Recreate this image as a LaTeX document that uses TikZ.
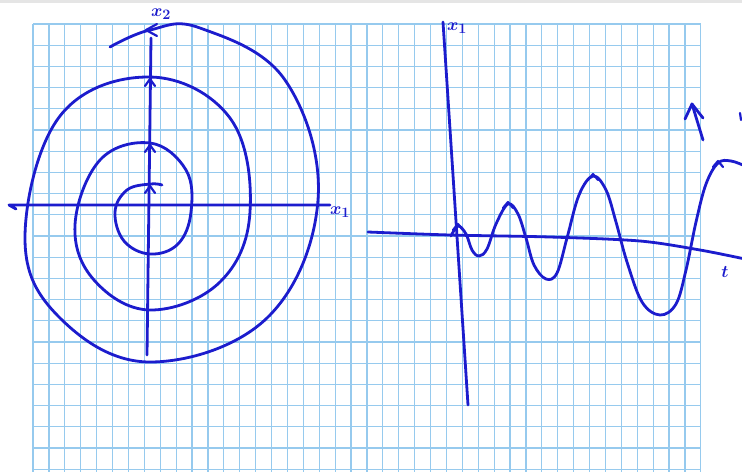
\documentclass[tikz,border=0pt]{standalone}
\definecolor{ink}{RGB}{28,28,205}
\definecolor{gridblue}{RGB}{150,202,238}
\begin{document}
\begin{tikzpicture}[x=1pt,y=-1pt,
  ink/.style={draw=ink, line width=2.8pt, line cap=round, line join=round},
  thin ink/.style={draw=ink, line width=2.2pt, line cap=round, line join=round},
  gridline/.style={draw=gridblue, line width=1.2pt},
  lbl/.style={text=ink, font=\fontsize{19}{19}\selectfont\boldmath, inner sep=0pt}]
\useasboundingbox (0,0) rectangle (742,472);
\fill[white] (0,0) rectangle (742,472);
\fill[black!10] (0,0) rectangle (742,3);
% grid paper
\foreach \i in {0,...,42} \draw[gridline] ({33+15.9*\i},24) -- ({33+15.9*\i},472);
\foreach \j in {0,...,21} \draw[gridline] (33,{24+21.2*\j}) -- (700.8,{24+21.2*\j});

% ---------- left panel: phase plane ----------
\coordinate (x1L) at (9,205);
\coordinate (x1R) at (330,205);
\coordinate (x2B) at (147,355);
\coordinate (x2T) at (151,38);
\draw[ink] (16,209) -- (x1L) -- (x1R);
\draw[ink] (x2B) -- (x2T);
\node[lbl] (lx1) at (340,212) {$x_1$};
\node[lbl] (lx2) at (161,14) {$x_2$};
% spiral
\draw[ink] plot[smooth, tension=0.65] coordinates {
 (162,185) (150,184) (127,190) (115,212) (124,241) (150,254) (178,244) (191,212)
 (186,170) (150,143) (100,160) (75,225) (94,280) (150,310) (220,282) (250,212)
 (230,118) (150,77) (60,116) (25,238) (60,318) (150,362) (267,318) (318,200)
 (285,80) (200,28) (150,30) (110,47)};
% arrow marks where the spiral crosses the x2 axis
\foreach \y in {186,145,79} \draw[thin ink] (145,{\y+7}) -- (150,\y) -- (155,{\y+7});
\draw[thin ink] (157,24) -- (146,30) -- (157,36);

% ---------- right panel: time plot ----------
\coordinate (vT) at (443,22);
\coordinate (vB) at (468,405);
\draw[ink] (vT) -- (vB);
\draw[ink] plot[smooth] coordinates {(368,232) (450,235) (550,237) (640,241) (700,250) (745,259)};
\node[lbl] (lxr) at (457,28) {$x_1$};
\node[lbl] (lt) at (725,272) {$t$};
\draw[ink] plot[smooth, tension=0.6] coordinates {
 (451,236) (458,226) (466,234) (472,250) (479,256) (487,249) (496,224) (508,204)
 (518,214) (526,238) (534,265) (546,279) (557,273) (567,238) (579,195) (593,176)
 (606,190) (616,222) (627,262) (642,302) (660,315) (676,304) (686,270) (696,222)
 (706,184) (718,163) (731,161) (745,166)};
% peak marks
\foreach \p in {(458,226),(508,204),(593,176),(718,163)}
  \draw[thin ink] \p ++(-5,4) -- ++(5,-6) -- ++(5,6);
% growth arrow
\coordinate (aS) at (703,140);
\coordinate (aT) at (692,104);
\draw[ink] (aS) -- (aT);
\draw[ink] (685,119) -- (aT) -- (703,118);
\draw[thin ink] (740,113) -- (741,120);
\end{tikzpicture}
\end{document}
